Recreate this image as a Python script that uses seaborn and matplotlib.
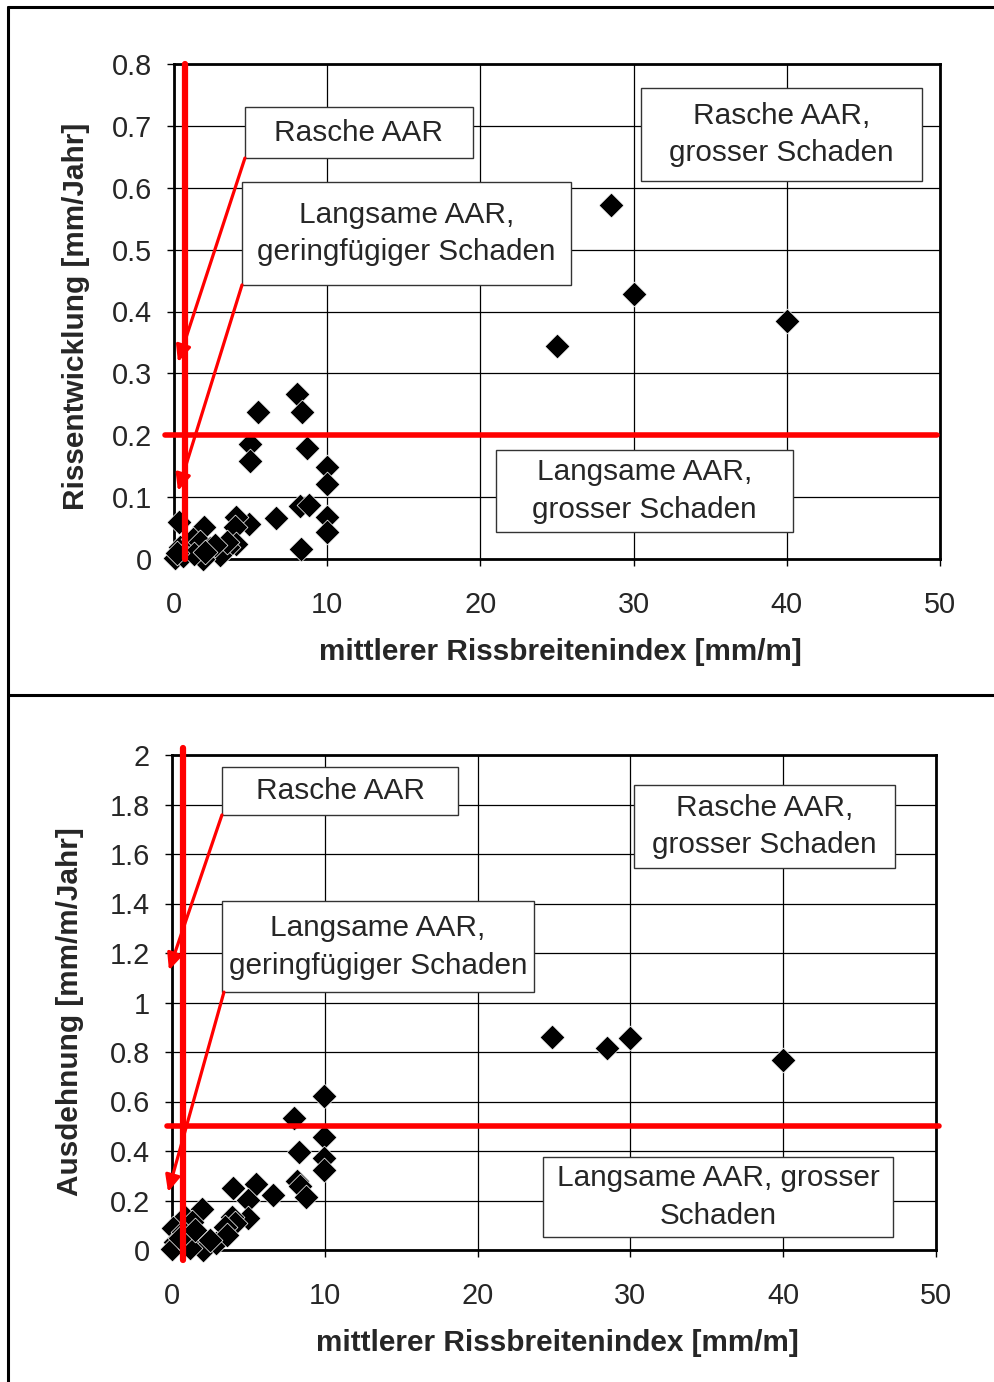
import matplotlib
matplotlib.use("Agg")
import matplotlib.pyplot as plt
from matplotlib.lines import Line2D
from matplotlib.patches import Rectangle
import seaborn as sns
import pandas as pd

# ---- Data: crack index (x) vs. crack development / expansion (y) ----
crack_index_top = [25.0, 28.5, 30.0, 40.0,
                   8.0, 5.5, 8.33, 4.96, 4.96, 8.7, 10.0, 10.0, 8.2, 8.8, 10.0, 10.0, 8.3,
                   6.66, 4.9, 4.05, 4.0, 0.35, 1.98, 4.05, 3.55,
                   0.07, 0.4, 1.04, 1.26, 1.7, 2.35, 3.0, 1.9, 3.44, 0.6, 1.3, 2.7, 0.2, 2.0]
crack_growth = [0.344, 0.572, 0.428, 0.384,
                0.267, 0.237, 0.237, 0.186, 0.159, 0.18, 0.148, 0.122, 0.085, 0.087, 0.068, 0.043, 0.016,
                0.067, 0.057, 0.068, 0.051, 0.06, 0.052, 0.025, 0.02,
                0.001, 0.02, 0.017, 0.033, 0.028, 0.017, 0.006, 0.0, 0.028, 0.005, 0.008, 0.022, 0.01, 0.012]

crack_index_bottom = [24.9, 28.5, 30.0, 40.0,
                      9.95, 7.98, 9.95, 8.3, 9.95, 9.95, 8.2, 8.4, 8.75, 6.63, 5.5, 3.97, 5.0, 5.0,
                      1.94, 3.9, 4.1, 3.47, 0.85,
                      0.09, 1.29, 0.2, 0.0, 1.83, 2.05, 2.9, 3.6, 1.18, 0.74, 0.5, 1.5, 2.5]
expansion = [0.86, 0.816, 0.857, 0.768,
             0.623, 0.532, 0.455, 0.397, 0.37, 0.323, 0.28, 0.26, 0.215, 0.222, 0.267, 0.249, 0.202, 0.128,
             0.164, 0.135, 0.108, 0.094, 0.135,
             0.088, 0.114, 0.034, 0.005, 0.047, 0.0, 0.027, 0.06, 0.007, 0.074, 0.05, 0.08, 0.04]

# Threshold lines
x_threshold = 0.75
y_threshold_top = 0.2
y_threshold_bottom = 0.5

x_label = "mittlerer Rissbreitenindex [mm/m]"
y_label_top = "Rissentwicklung [mm/Jahr]"
y_label_bottom = "Ausdehnung [mm/m/Jahr]"

label_fast = "Rasche AAR"
label_fast_large = "Rasche AAR,\ngrosser Schaden"
label_slow_small = "Langsame AAR,\ngeringfügiger Schaden"
label_slow_large_top = "Langsame AAR,\ngrosser Schaden"
label_slow_large_bottom = "Langsame AAR, grosser\nSchaden"

sns.set_style("white")
plt.rcParams["font.family"] = ["Liberation Sans", "DejaVu Sans"]

W, H = 995, 1382
fig = plt.figure(figsize=(W / 100, H / 100), dpi=100)
fig.patch.set_facecolor("white")

FS_TICK = 20.8
FS_BOX = 21.4
FS_LABEL = 21.4
RED = "#ff0000"


def px_axes(left, right, top, bottom):
    return fig.add_axes([left / W, 1 - bottom / H, (right - left) / W, (bottom - top) / H])


ax1 = px_axes(174, 940, 64, 559)
ax2 = px_axes(172, 936, 755, 1250)


def style_axes(ax, ymax, ystep):
    ax.set_xlim(0, 50)
    ax.set_ylim(0, ymax)
    xt = list(range(0, 51, 10))
    n = int(round(ymax / ystep))
    yt = [round(i * ystep, 2) for i in range(n + 1)]
    ax.set_xticks(xt)
    ax.set_yticks(yt)
    ax.set_xticklabels([f"{v:g}" for v in xt])
    ax.set_yticklabels([f"{v:g}" for v in yt])
    ax.grid(True, color="black", linewidth=0.9)
    ax.set_axisbelow(True)
    for s in ax.spines.values():
        s.set_visible(True)
        s.set_color("black")
        s.set_linewidth(2.0)
    ax.tick_params(axis="both", direction="out", length=5, width=1, color="black",
                   labelsize=FS_TICK, bottom=True, left=True)
    ax.tick_params(axis="x", pad=18)
    ax.tick_params(axis="y", pad=11)


def draw_panel(ax, xs, ys, ymax, ystep, yth, ylabel, boxes, arrows, vline_span, hline_span,
               xlab_pos, ylab_pos):
    style_axes(ax, ymax, ystep)
    df = pd.DataFrame({"x": xs, "y": ys})
    sns.scatterplot(data=df, x="x", y="y", ax=ax, marker="D", s=160, color="black",
                    edgecolor="white", linewidth=0.5, clip_on=False, zorder=3, legend=False)
    # threshold lines
    ax.plot([x_threshold, x_threshold], vline_span, color=RED, lw=4.5,
            solid_capstyle="round", clip_on=False, zorder=5)
    ax.plot(hline_span, [yth, yth], color=RED, lw=4.0,
            solid_capstyle="round", clip_on=False, zorder=5)
    # labelled regions
    for (x0, x1, y0, y1, txt) in boxes:
        ax.add_patch(Rectangle((x0, y0), x1 - x0, y1 - y0, facecolor="white",
                               edgecolor="#333333", lw=1.0, zorder=6, clip_on=False))
        ax.text((x0 + x1) / 2, (y0 + y1) / 2, txt, ha="center", va="center",
                fontsize=FS_BOX, zorder=7, linespacing=1.45)
    for (xs0, ys0, xe, ye) in arrows:
        ax.annotate("", xy=(xe, ye), xytext=(xs0, ys0),
                    arrowprops=dict(arrowstyle="-|>,head_length=1.0,head_width=0.45",
                                    color=RED, lw=2.3, shrinkA=0, shrinkB=0),
                    zorder=6, annotation_clip=False)
    ax.set_xlabel(x_label, fontsize=FS_LABEL, fontweight="bold")
    ax.set_ylabel(ylabel, fontsize=FS_LABEL, fontweight="bold")
    ax.xaxis.set_label_coords(*xlab_pos)
    ax.yaxis.set_label_coords(*ylab_pos)
    ax.xaxis.label.set_verticalalignment("center")
    ax.yaxis.label.set_verticalalignment("center")


draw_panel(
    ax1, crack_index_top, crack_growth, 0.8, 0.1, y_threshold_top, y_label_top,
    boxes=[
        (4.63, 19.52, 0.648, 0.7305, label_fast),
        (30.48, 48.83, 0.611, 0.761, label_fast_large),
        (4.44, 25.91, 0.443, 0.609, label_slow_small),
        (21.02, 40.4, 0.044, 0.176, label_slow_large_top),
    ],
    arrows=[(4.63, 0.648, 0.26, 0.318), (4.44, 0.443, 0.26, 0.11)],
    vline_span=[0.0, 0.8], hline_span=[-0.6, 49.8],
    xlab_pos=(0.505, -0.188), ylab_pos=(-0.128, 0.491),
)

draw_panel(
    ax2, crack_index_bottom, expansion, 2.0, 0.2, y_threshold_bottom, y_label_bottom,
    boxes=[
        (3.27, 18.72, 1.758, 1.9515, label_fast),
        (30.24, 47.32, 1.543, 1.879, label_fast_large),
        (3.27, 23.69, 1.042, 1.41, label_slow_small),
        (24.28, 47.19, 0.0525, 0.3758, label_slow_large_bottom),
    ],
    arrows=[(3.27, 1.758, -0.2, 1.13), (3.4, 1.042, -0.26, 0.234)],
    vline_span=[-0.04, 2.03], hline_span=[-0.3, 50.2],
    xlab_pos=(0.504, -0.188), ylab_pos=(-0.1335, 0.481),
)

# outer frame and separator between the two panels
for (x0, y0, x1, y1) in [(8, 7, 995, 7), (8, 7, 8, 1382), (8, 695, 995, 695)]:
    fig.add_artist(Line2D([x0 / W, x1 / W], [1 - y0 / H, 1 - y1 / H],
                          transform=fig.transFigure, color="black", lw=2.2))

fig.savefig("out.png", dpi=100, facecolor="white")
